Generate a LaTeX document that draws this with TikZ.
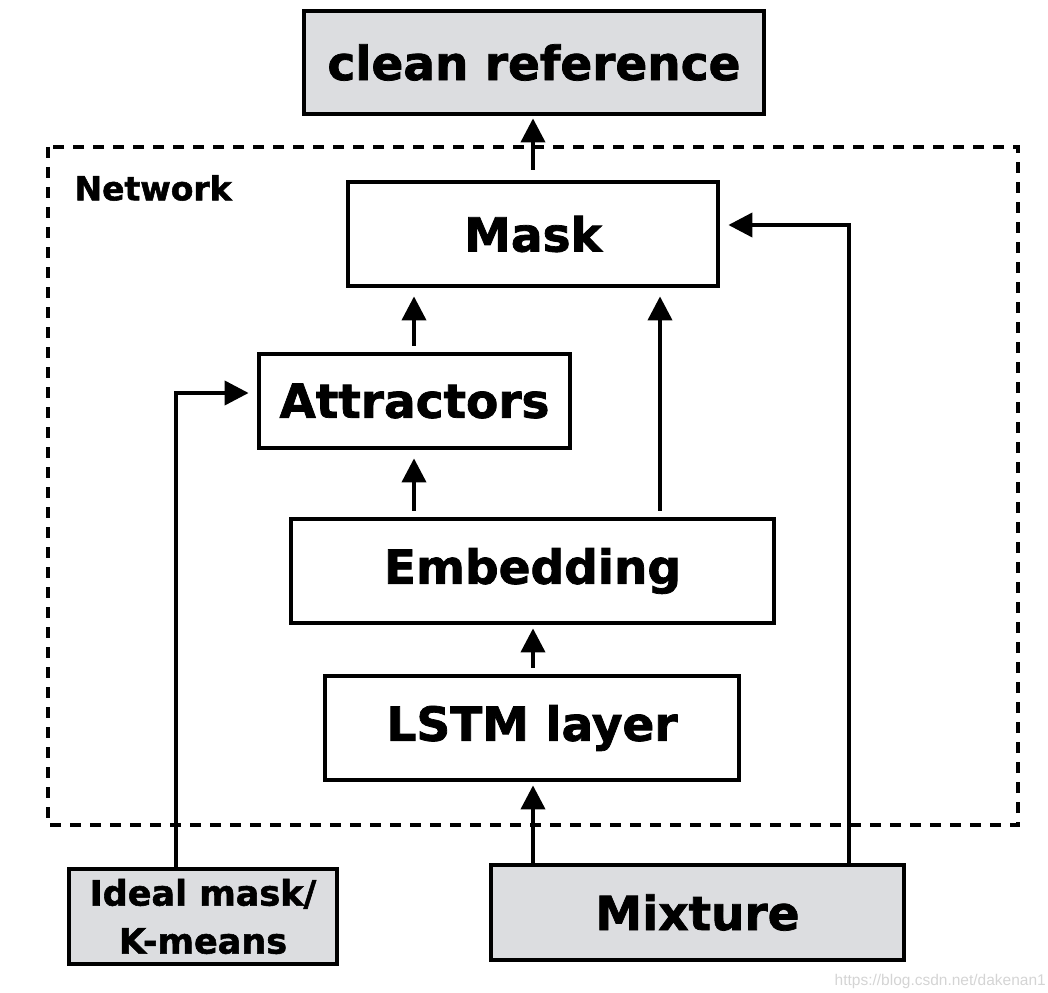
\documentclass[tikz,border=0pt]{standalone}
\usepackage{fontspec}
\setmainfont{DejaVu Sans}[BoldFeatures={FakeBold=1.6}]
\newfontfamily\wmfont{Liberation Sans}
\usetikzlibrary{arrows.meta,calc}
\definecolor{boxgray}{HTML}{DCDDE0}
\definecolor{wmgray}{HTML}{D4D4D4}
\begin{document}
\begin{tikzpicture}[x=1pt,y=-1pt,
  box/.style={draw=black,line width=4.8pt,inner sep=0pt,fill=white,
    font=\bfseries\fontsize{47}{50}\selectfont,text=black},
  graybox/.style={box,fill=boxgray},
  arr/.style={line width=4pt,-{Triangle[length=24pt,width=24pt]},shorten >=8pt,shorten <=6pt},
  elb/.style={line width=4pt,-{Triangle[length=24pt,width=24pt]},shorten >=8pt}
]
\useasboundingbox (0,0) rectangle (1048,992);
% dashed network frame
\draw[line width=3.5pt,dash pattern=on 11pt off 9pt] (48,147) rectangle (1018,825);
\node[anchor=west,font=\bfseries\fontsize{33}{36}\selectfont] (netlbl) at (71,188) {Network};

\node[graybox,minimum width=460pt,minimum height=103pt] (clean) at (534,62.5) {clean reference};
\node[box,minimum width=370pt,minimum height=104pt] (mask) at (533,234) {Mask};
\node[box,minimum width=311pt,minimum height=94pt] (attr) at (414.5,401) {Attractors};
\node[box,minimum width=483pt,minimum height=104pt] (emb) at (532.5,571) {Embedding};
\node[box,minimum width=414pt,minimum height=104pt] (lstm) at (532,728) {LSTM layer};
\node[graybox,minimum width=268pt,minimum height=95pt,align=center,
  font=\bfseries\fontsize{35}{48}\selectfont] (ideal) at (203,916.5) {Ideal mask/\\K-means};
\node[graybox,minimum width=413pt,minimum height=95pt] (mix) at (697.5,912.5) {Mixture};

\node[anchor=east,font=\wmfont\fontsize{15.5}{17}\selectfont,text=wmgray,inner sep=0pt] (wm) at (1046,981) {https://blog.csdn.net/dakenan1};

% connectors
\draw[arr,shorten <=10pt,shorten >=2pt] (mask.north -| 533,0) -- (clean.south -| 533,0);
\draw[arr] (attr.north -| 414,0) -- (mask.south -| 414,0);
\draw[arr] (emb.north -| 414,0) -- (attr.south -| 414,0);
\draw[arr] (emb.north -| 660,0) -- (mask.south -| 660,0);
\draw[arr,shorten >=3pt] (lstm.north -| 533,0) -- (emb.south -| 533,0);
\draw[arr,shorten <=0pt,shorten >=3pt] (mix.north -| 533,0) -- (lstm.south -| 533,0);
\coordinate (mixr) at (849,225);
\draw[elb] (mix.north -| mixr) |- ([yshift=9pt]mask.east);
\coordinate (idl) at (176,393);
\draw[elb] (ideal.north -| idl) |- ([yshift=8pt]attr.west);
\end{tikzpicture}
\end{document}
